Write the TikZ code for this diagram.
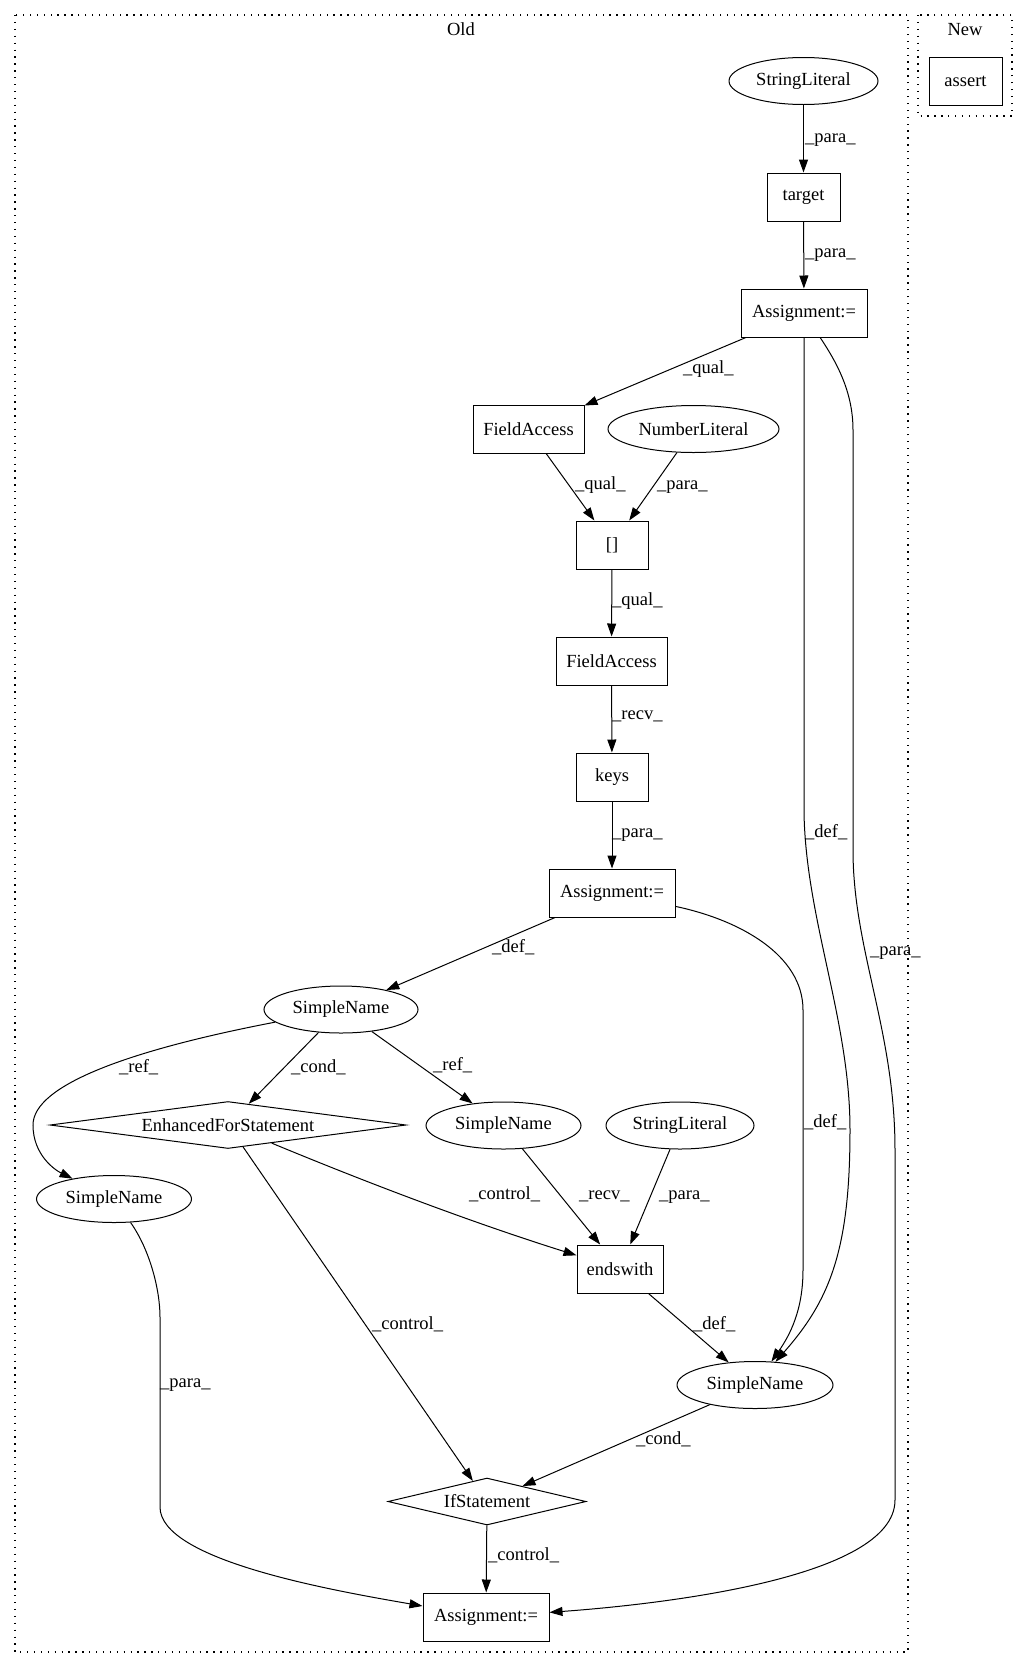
\documentclass[tikz,border=0pt]{standalone}
\usepackage{fontspec}
\setmainfont{Liberation Serif}
\usetikzlibrary{shapes.geometric,arrows.meta}
\begin{document}
\begin{tikzpicture}[x=1pt,y=-1pt,
  every node/.style={font=\fontsize{18.5}{22}\selectfont},
  box/.style={draw, line width=1pt, rectangle, inner sep=0pt, minimum height=48pt},
  ell/.style={draw, line width=1pt, ellipse, inner sep=0pt, minimum height=47pt},
  dia/.style={draw, line width=1pt, diamond, inner sep=0pt, minimum height=47pt},
  conn/.style={line width=1pt, -{Triangle[length=13pt,width=9pt]}},
  lbl/.style={anchor=west, inner sep=0pt, text height=0.7em, text depth=0.25em},
  clus/.style={line width=1.2pt, dash pattern=on 1.3pt off 5.6pt},
]
\useasboundingbox (0,0) rectangle (1028,1668);
% clusters
\draw[clus] (15,15) rectangle (908,1652);
\draw[clus] (918,15) rectangle (1012,116);
\node (oldlbl) at (461,29) {Old};
\node (newlbl) at (965,30) {New};
% nodes
\node[ell, minimum width=149pt] (sl1) at (803.5,81) {StringLiteral};
\node[box, minimum width=73pt] (tgt) at (803.5,197) {target};
\node[box, minimum width=126pt] (at1) at (804,313) {Assignment:=};
\node[box, minimum width=111pt] (fa1) at (528.5,429) {FieldAccess};
\node[ell, minimum width=171pt] (nl) at (693.5,429) {NumberLiteral};
\node[box, minimum width=72pt] (br) at (612,545) {[]};
\node[box, minimum width=111pt] (fa2) at (611.5,661) {FieldAccess};
\node[box, minimum width=72pt] (keys) at (612,777) {keys};
\node[box, minimum width=126pt] (at2) at (612,893) {Assignment:=};
\node[ell, minimum width=154pt] (sn1) at (341,1009.5) {SimpleName};
\node[dia, aspect=7.6, minimum width=356pt] (efs) at (228,1125) {EnhancedForStatement};
\node[ell, minimum width=155pt] (sn2) at (503.5,1125.5) {SimpleName};
\node[ell, minimum width=148pt] (sl2) at (680,1125.5) {StringLiteral};
\node[ell, minimum width=155pt] (sn3) at (114,1199) {SimpleName};
\node[box, minimum width=86pt] (ends) at (620,1269) {endswith};
\node[ell, minimum width=156pt] (sn4) at (755,1385) {SimpleName};
\node[dia, aspect=4.2, minimum width=198pt] (ifs) at (487,1501.5) {IfStatement};
\node[box, minimum width=126pt] (at3) at (486,1617) {Assignment:=};
\node[box, minimum width=73pt] (asrt) at (965.5,81) {assert};
% edges
\draw[conn] (sl1) -- (tgt);
\draw[conn] (tgt) -- (at1);
\draw[conn] (at1) -- (fa1);
\draw[conn] (fa1) -- (br);
\draw[conn] (nl) -- (br);
\draw[conn] (br) -- (fa2);
\draw[conn] (fa2) -- (keys);
\draw[conn] (keys) -- (at2);
\draw[conn] (at2) -- (sn1);
\draw[conn] (sn1) -- (efs);
\draw[conn] (sn1) -- (sn2);
\draw[conn] (sn1) .. controls (130,1050) and (33,1085) .. (33,1125) .. controls (33,1155) and (55,1170) .. (sn3);
\draw[conn] (efs) .. controls (380,1188) and (480,1225) .. (ends);
\draw[conn] (efs) -- (ifs);
\draw[conn] (sn2) -- (ends);
\draw[conn] (sl2) -- (ends);
\draw[conn] (ends) -- (sn4);
\draw[conn] (sn4) -- (ifs);
\draw[conn] (ifs) -- (at3);
\draw[conn] (sn3) .. controls (150,1250) and (160,1290) .. (160,1317) -- (160,1507) .. controls (160,1560) and (330,1590) .. (at3);
\draw[conn] (at1.south) -- (804,813) .. controls (806,920) and (850,1020) .. (850,1130) .. controls (850,1250) and (830,1300) .. (sn4);
\draw[conn] (at2) .. controls (740,920) and (803,955) .. (803,1010) -- (803,1270) .. controls (803,1310) and (790,1335) .. (sn4);
\draw[conn] (at1) .. controls (835,360) and (853,390) .. (853,430) -- (853,850) .. controls (853,950) and (895,1030) .. (895,1150) -- (895,1500) .. controls (895,1580) and (650,1605) .. (at3);
% labels
\node[lbl] (l1) at (805,140) {\_para\_};
\node[lbl] (l2) at (805,255) {\_para\_};
\node[lbl] (l3) at (683,371) {\_qual\_};
\node[lbl] (l4) at (575,487) {\_qual\_};
\node[lbl] (l5) at (657,487) {\_para\_};
\node[lbl] (l6) at (612,603) {\_qual\_};
\node[lbl] (l7) at (612,717) {\_recv\_};
\node[lbl] (l8) at (612,835) {\_para\_};
\node[lbl] (l9) at (492,950) {\_def\_};
\node[lbl] (l10) at (805,835) {\_def\_};
\node[lbl] (l11) at (870,953) {\_para\_};
\node[lbl] (l12) at (804,1125) {\_def\_};
\node[lbl] (l13) at (119,1070) {\_ref\_};
\node[lbl] (l14) at (291,1070) {\_cond\_};
\node[lbl] (l15) at (433,1068) {\_ref\_};
\node[lbl] (l16) at (469,1197) {\_control\_};
\node[lbl] (l17) at (579,1197) {\_recv\_};
\node[lbl] (l18) at (659,1197) {\_para\_};
\node[lbl] (l19) at (372,1327) {\_control\_};
\node[lbl] (l20) at (693,1327) {\_def\_};
\node[lbl] (l21) at (636,1442) {\_cond\_};
\node[lbl] (l22) at (488,1558) {\_control\_};
\node[lbl] (l23) at (160,1385) {\_para\_};
\end{tikzpicture}
\end{document}
